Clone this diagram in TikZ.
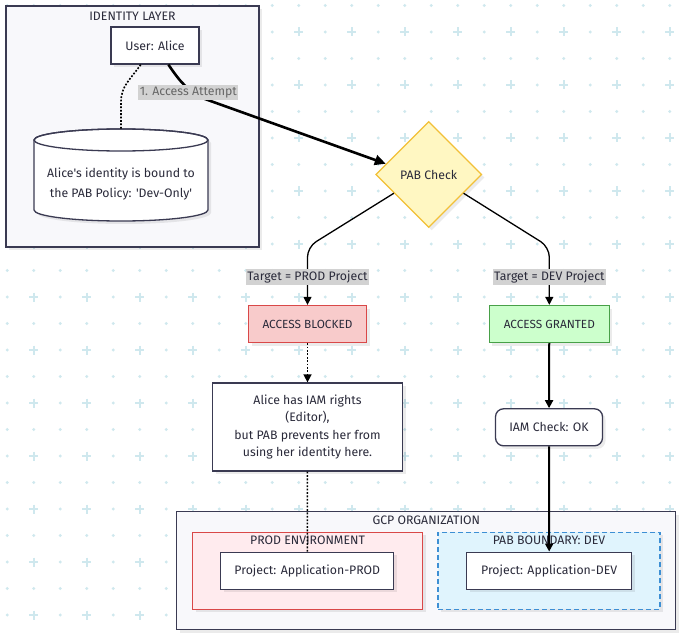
\documentclass[tikz,border=0pt]{standalone}
\usepackage{fontspec}
\newfontfamily\fira{Fira Sans}
\usetikzlibrary{shapes.geometric,arrows.meta,shadows,calc}
\definecolor{gridc}{HTML}{CFE8EE}
\definecolor{border}{HTML}{3A3A52}
\definecolor{txt}{HTML}{2A2A3A}
\definecolor{contfill}{HTML}{F8F8FB}
\definecolor{ylwfill}{HTML}{FFF7C2}
\definecolor{ylwline}{HTML}{F2C037}
\definecolor{redfill}{HTML}{F8CBCB}
\definecolor{redline}{HTML}{D94848}
\definecolor{grnfill}{HTML}{CCFFCC}
\definecolor{grnline}{HTML}{48A048}
\definecolor{pinkfill}{HTML}{FFEBEE}
\definecolor{bluefill}{HTML}{E0F4FD}
\definecolor{blueline}{HTML}{3D8FD4}
\definecolor{lblfill}{HTML}{D2D2D2}
\begin{document}
\begin{tikzpicture}[x=1pt,y=-1pt,
  font=\fira\fontsize{12.3}{14}\selectfont, text=txt,
  shdw/.style={drop shadow={shadow xshift=3pt, shadow yshift=-3pt, fill=black, opacity=0.08}},
  box/.style={draw=border, fill=white, line width=1.3pt, inner sep=0pt, align=center, shdw},
  cont/.style={draw=border, fill=contfill, line width=1.3pt, inner sep=0pt, shdw},
  lbl/.style={fill=lblfill, inner xsep=1.5pt, inner ysep=2.3pt, text=txt},
  tip/.style={-{Triangle[length=8pt,width=8pt]}},
  link/.style={draw=black, line width=1.3pt},
  dotline/.style={draw=black, line width=1.6pt, dash pattern=on 1.8pt off 1.6pt},
]
\useasboundingbox (0,0) rectangle (682,639);
\fill[white] (0,0) rectangle (682,639);
% background grid
\foreach \i in {0,...,25} {
  \foreach \j in {0,...,23} {
    \pgfmathsetmacro\gx{7.2+26.5*\i}
    \pgfmathsetmacro\gy{5.5+26.5*\j}
    \ifodd\i
      \ifodd\j
        \draw[gridc, line width=1.6pt] (\gx-4.5,\gy) -- (\gx+4.5,\gy) (\gx,\gy-4.5) -- (\gx,\gy+4.5);
      \else
        \fill[gridc] (\gx,\gy) circle[radius=1.6pt];
      \fi
    \else
      \fill[gridc] (\gx,\gy) circle[radius=1.6pt];
    \fi
  }
}
% identity layer
\node[cont, minimum width=253pt, minimum height=241pt] (idl) at (132.5,126.5) {};
\node (idlt) at (132.5,16) {IDENTITY LAYER};
\node[box, minimum width=88pt, minimum height=37pt] (alice) at (155,45.5) {User: Alice};
% cylinder
\node[minimum width=174pt, minimum height=92pt, inner sep=0pt] (cyl) at (121,175) {};
\draw[border, fill=white, line width=1.3pt, shdw] (34,140) -- (34,210) arc[start angle=180, end angle=360, x radius=87pt, y radius=11pt] -- (208,140) arc[start angle=0, end angle=180, x radius=87pt, y radius=11pt] -- cycle;
\draw[border, line width=1.3pt] (121,140) ellipse[x radius=87pt, y radius=11pt];
\node[align=center, font=\fira\fontsize{12.3}{20}\selectfont] (cyltxt) at (121,184) {Alice's identity is bound to\\the PAB Policy: 'Dev-Only'};
% PAB check
\node[diamond, draw=ylwline, fill=ylwfill, line width=1.3pt, minimum width=106pt, minimum height=106pt, inner sep=0pt, aspect=1, shdw] (pab) at (428.7,174.5) {PAB Check};
% results
\node[box, draw=redline, fill=redfill, minimum width=118pt, minimum height=37pt, font=\fira\fontsize{11.8}{14}\selectfont] (blk) at (307.5,324) {ACCESS BLOCKED};
\node[box, draw=grnline, fill=grnfill, minimum width=120pt, minimum height=37pt, font=\fira\fontsize{11.8}{14}\selectfont] (grt) at (549.3,324) {ACCESS GRANTED};
\node[box, minimum width=190pt, minimum height=88pt, font=\fira\fontsize{12.3}{17.3}\selectfont] (note) at (307.5,427) {Alice has IAM rights\\(Editor),\\but PAB prevents her from\\using her identity here.};
\node[box, rounded corners=8pt, minimum width=107pt, minimum height=37pt] (iam) at (549,427.3) {IAM Check: OK};
% GCP organization
\node[cont, minimum width=499pt, minimum height=118pt] (gcp) at (426.3,570.5) {};
\node (gcpt) at (426.3,520) {GCP ORGANIZATION};
\node[cont, draw=redline, fill=pinkfill, minimum width=230pt, minimum height=77pt] (prod) at (307.5,570.8) {};
\node (prodt) at (307.5,540) {PROD ENVIRONMENT};
\node[box, minimum width=173pt, minimum height=37pt] (pprod) at (307.3,570.7) {Project: Application-PROD};
\node[cont, draw=blueline, fill=bluefill, dash pattern=on 5pt off 3pt, minimum width=222pt, minimum height=77pt] (dev) at (549,570.8) {};
\node (devt) at (549,540) {PAB BOUNDARY: DEV};
\node[box, minimum width=165pt, minimum height=37pt] (pdev) at (549.2,570.7) {Project: Application-DEV};
% connectors
\coordinate (a1) at ($(alice.south west)!0.65!(alice.south east)$);
\coordinate (a2) at ($(alice.south west)!0.34!(alice.south east)$);
\coordinate (p1) at ($(pab.west)!0.2!(pab.north)$);
\draw[dotline] (a2) .. controls (130,80) and (121,86) .. (121,102) -- (cyl.north);
\draw[link, line width=2.6pt, -{Triangle[length=11pt,width=10pt]}] (a1) .. controls (181,83) and (187,90) .. (205,99) -- (p1);
\node[lbl, text=black!60] (l1) at (188.3,92.5) {1. Access Attempt};
\coordinate (pl) at ($(pab.west)!0.35!(pab.south)$);
\coordinate (pr) at ($(pab.east)!0.35!(pab.south)$);
\draw[link, tip, rounded corners=10pt] (pl) -- (307.5,247) -- (blk.north);
\draw[link, tip, rounded corners=10pt] (pr) -- (549.3,247) -- (grt.north);
\node[lbl] (l2) at (307.5,277) {Target = PROD Project};
\node[lbl] (l3) at (549.3,277) {Target = DEV Project};
\draw[dotline, tip] (blk) -- (note);
\draw[link, line width=2pt, tip] (grt) -- (iam);
\draw[link, line width=2pt, tip] (iam) -- (pdev);
\draw[dotline] (note) -- (pprod);
\end{tikzpicture}
\end{document}
